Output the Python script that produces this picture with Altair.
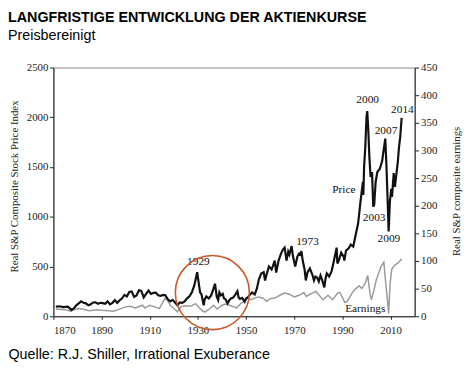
import altair as alt
import pandas as pd

# ---- data ----
price_years = [1871.0, 1872.0, 1873.0, 1874.0, 1875.0, 1876.0, 1877.5, 1878.5, 1879.5, 1880.5,
               1881.5, 1882.5, 1883.5, 1884.5, 1885.5, 1886.5, 1887.5, 1888.5, 1889.5, 1890.5,
               1891.5, 1892.5, 1893.5, 1894.5, 1895.5, 1896.5, 1897.5, 1898.5, 1899.5, 1900.5,
               1901.5, 1902.5, 1903.5, 1904.5, 1905.5, 1906.5, 1907.5, 1908.5, 1909.5, 1910.5,
               1911.5, 1912.5, 1913.5, 1914.5, 1915.5, 1916.5, 1917.5, 1918.5, 1919.5, 1920.5,
               1921.5, 1922.5, 1923.5, 1924.5, 1925.5, 1926.5, 1927.5, 1928.5, 1929.7, 1930.3,
               1930.9, 1931.5, 1932.4, 1932.8, 1933.5, 1934.5, 1935.5, 1936.5, 1937.1, 1937.8,
               1938.4, 1938.9, 1939.5, 1940.3, 1940.8, 1941.5, 1942.3, 1943.0, 1943.7, 1944.5,
               1945.5, 1946.4, 1946.9, 1947.5, 1948.4, 1949.4, 1950.0, 1950.7, 1951.5, 1952.5,
               1953.6, 1954.5, 1955.3, 1956.3, 1957.3, 1957.9, 1958.5, 1959.5, 1960.6, 1961.9,
               1962.5, 1963.5, 1964.5, 1965.3, 1966.0, 1966.8, 1967.5, 1968.0, 1968.9, 1969.5,
               1970.4, 1971.3, 1972.0, 1972.5, 1973.0, 1973.5, 1974.3, 1974.8, 1975.5, 1976.5,
               1977.5, 1978.2, 1978.8, 1979.5, 1980.2, 1980.9, 1981.5, 1982.5, 1983.0, 1983.5,
               1984.5, 1985.5, 1986.5, 1987.6, 1987.9, 1988.5, 1989.5, 1990.5, 1990.8, 1991.5,
               1992.5, 1993.5, 1994.5, 1995.5, 1996.5, 1997.5, 1998.5, 1998.7, 1999.0, 1999.5,
               2000.0, 2000.3, 2000.7, 2001.2, 2001.7, 2002.3, 2002.8, 2003.2, 2003.8, 2004.5,
               2005.5, 2006.5, 2007.0, 2007.8, 2008.3, 2008.8, 2009.2, 2009.7, 2010.3, 2010.6,
               2011.3, 2011.8, 2012.5, 2013.0, 2013.5, 2014.0, 2014.6]
price_values = [96, 100, 98, 92, 95, 96, 63, 80, 110, 129,
                150, 135, 130, 110, 120, 139, 140, 125, 135, 132,
                125, 150, 120, 135, 162, 135, 160, 180, 215, 200,
                245, 250, 195, 210, 262, 255, 190, 225, 258, 225,
                235, 238, 212, 205, 215, 212, 170, 150, 165, 139,
                110, 140, 135, 150, 180, 200, 240, 310, 443, 340,
                240, 220, 110, 170, 200, 180, 210, 280, 327, 200,
                164, 240, 210, 225, 180, 170, 130, 160, 180, 185,
                215, 251, 190, 175, 185, 146, 178, 190, 215, 240,
                220, 280, 370, 430, 443, 360, 420, 500, 470, 560,
                440, 560, 630, 670, 690, 560, 650, 620, 705, 600,
                500, 600, 630, 620, 655, 560, 470, 360, 440, 480,
                420, 360, 400, 390, 350, 410, 370, 290, 380, 430,
                400, 450, 560, 690, 530, 560, 640, 600, 560, 660,
                680, 720, 700, 820, 930, 1150, 1350, 1220, 1500, 1700,
                2000, 2063, 1900, 1600, 1400, 1450, 1100, 1120, 1350, 1450,
                1480, 1560, 1650, 1786, 1500, 1150, 853, 1150, 1280, 1200,
                1440, 1300, 1450, 1550, 1700, 1800, 1994]

earn_years = [1871, 1875, 1877, 1880, 1882, 1885, 1888, 1890, 1893, 1895,
              1897, 1900, 1902, 1904, 1907, 1908, 1910, 1912, 1914, 1915,
              1916.4, 1917.5, 1918.5, 1920, 1921.5, 1923, 1925, 1927, 1929, 1930.5,
              1932, 1933, 1935, 1936.5, 1938, 1940, 1941.5, 1943, 1945, 1946,
              1948, 1949.5, 1950.5, 1952, 1955, 1957, 1958.5, 1960, 1962, 1964,
              1966, 1968, 1970, 1972, 1974, 1975, 1977, 1979, 1980, 1982,
              1984, 1986, 1988, 1989, 1991, 1992, 1994, 1995, 1997, 1998,
              1999.5, 2000.5, 2001.5, 2002, 2003, 2004, 2006, 2007.2, 2008, 2008.8,
              2009.2, 2009.8, 2010.5, 2011.5, 2012.5, 2013.5, 2014.6]
earn_values = [13, 12, 9, 14, 13, 10, 12, 11, 10, 9,
               12, 17, 18, 15, 20, 15, 20, 17, 14, 22,
               33, 28, 20, 14, 8, 18, 19, 18, 23, 16,
               9, 8, 14, 20, 13, 20, 22, 20, 17, 15,
               24, 28, 33, 30, 35, 33, 27, 32, 33, 38,
               42, 40, 35, 38, 43, 36, 41, 45, 40, 30,
               38, 30, 42, 43, 25, 27, 42, 48, 55, 50,
               60, 74, 40, 30, 45, 65, 90, 98, 60, 25,
               5, 60, 85, 92, 95, 98, 104]

ann_labels = ["1929", "1973", "2000", "2007", "2014", "Price", "2003", "2009", "Earnings"]
ann_years = [1930.2, 1975.5, 2000.5, 2008.1, 2014.9, 1990.6, 2003.2, 2009.3, 1999.5]
ann_values = [541, 749, 2173, 1865, 2073, 1270, 992, 774, 69]

circle_years = [1936.0]
circle_values = [238]

x_ticks = [1870, 1890, 1910, 1930, 1950, 1970, 1990, 2010]
left_ticks = [0, 500, 1000, 1500, 2000, 2500]
right_ticks = [0, 50, 100, 150, 200, 250, 300, 350, 400, 450]

price_df = pd.DataFrame({"year": price_years, "price": price_values})
earn_df = pd.DataFrame({"year": earn_years, "earnings": earn_values})
ann_df = pd.DataFrame({"year": ann_years, "price": ann_values, "label": ann_labels})
circ_df = pd.DataFrame({"year": circle_years, "price": circle_values})

W, H = 366, 252
SERIF = "Liberation Serif"
SANS = "Liberation Sans"
LBL = dict(labelFont=SERIF, labelFontSize=11, labelColor="#222",
           domainColor="#222", tickColor="#222", grid=False)

x_scale = alt.Scale(domain=[1870, 2020], nice=False, zero=False)
x_axis = alt.Axis(values=x_ticks, format="d", tickSize=3, labelPadding=5, **LBL,
                  title="Quelle: R.J. Shiller, Irrational Exuberance",
                  titleX=-46, titleY=43, titleAlign="left", titleAnchor="start",
                  titleBaseline="alphabetic", titleFont=SANS, titleFontSize=14.5,
                  titleFontWeight="normal", titleColor="#000")
x_enc = alt.X("year:Q", scale=x_scale, axis=x_axis)

yl_scale = alt.Scale(domain=[0, 2500], nice=False)
yl_axis = alt.Axis(orient="left", values=left_ticks, format="d", tickSize=4,
                   labelPadding=1.5, **LBL,
                   title="Real S&P Composite Stock Price Index",
                   titleX=-39, titleY=120, titleAngle=270, titleAlign="center",
                   titleBaseline="middle", titleFont=SERIF, titleFontSize=11,
                   titleFontWeight="normal", titleColor="#222")
yr_scale = alt.Scale(domain=[0, 450], nice=False)
yr_axis = alt.Axis(orient="right", values=right_ticks, format="d", tickSize=4,
                   labelPadding=2, **LBL,
                   title="Real S&P composite earnings",
                   titleX=42, titleY=125, titleAngle=270, titleAlign="center",
                   titleBaseline="middle", titleFont=SERIF, titleFontSize=11,
                   titleFontWeight="normal", titleColor="#222")

earn_line = alt.Chart(earn_df).mark_line(color="#9a9a9a", strokeWidth=1.5).encode(
    x=x_enc, y=alt.Y("earnings:Q", scale=yr_scale, axis=yr_axis))

price_line = alt.Chart(price_df).mark_line(color="#111111", strokeWidth=2.2).encode(
    x=x_enc, y=alt.Y("price:Q", scale=yl_scale, axis=yl_axis))

texts = alt.Chart(ann_df).mark_text(font=SERIF, fontSize=11.5, color="#111",
                                    align="center", baseline="middle").encode(
    x=x_enc, y=alt.Y("price:Q", scale=yl_scale, axis=yl_axis), text="label:N")

circle = alt.Chart(circ_df).mark_point(shape="circle", filled=False, size=5625,
                                       color="#cc5a28", strokeWidth=1.6, opacity=1).encode(
    x=x_enc, y=alt.Y("price:Q", scale=yl_scale, axis=yl_axis))

price_group = alt.layer(price_line, texts, circle)

chart = alt.layer(earn_line, price_group).resolve_scale(y="independent").properties(
    width=W, height=H,
    autosize=alt.AutoSizeParams(type="none"),
    padding={"left": 46, "top": 58, "right": 51, "bottom": 44},
    title=alt.TitleParams(
        text="LANGFRISTIGE ENTWICKLUNG DER AKTIENKURSE",
        subtitle="Preisbereinigt",
        anchor="start", frame="group", dx=-46, offset=18,
        font=SANS, fontSize=14.5, fontWeight="bold", color="#000",
        subtitleFont=SANS, subtitleFontSize=14.5, subtitleColor="#000",
        subtitlePadding=4),
).configure_view(stroke="#888888", strokeWidth=1).configure_axis(
    grid=False, labelFont=SERIF, labelFontSize=11, labelColor="#222"
)

chart.save("out.html", embed_options={"renderer": "svg", "actions": False})
